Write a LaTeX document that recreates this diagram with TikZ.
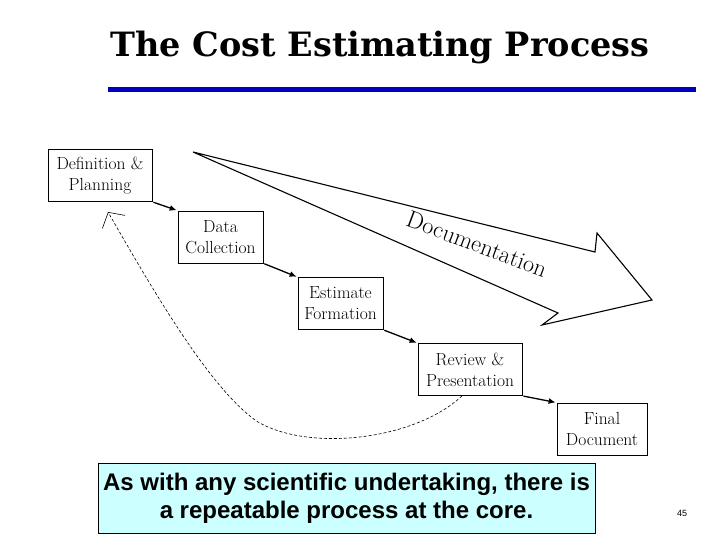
\documentclass[tikz,border=0pt]{standalone}
\usepackage{fontspec}
\usepackage{xcolor}
\usepackage{tikz}
\usetikzlibrary{arrows.meta,positioning}
\newfontfamily\titlefont{DejaVu Serif}
\newfontfamily\notefont{Liberation Sans}
\definecolor{rulebar}{HTML}{0000C0}
\definecolor{notefill}{HTML}{CCFFFF}
\newcommand{\BoxFont}{\fontsize{17.5}{21}\selectfont}
\newcommand{\NoteFont}{\fontsize{24}{28}\selectfont}

\begin{document}
\begin{tikzpicture}[x=1pt,y=-1pt,
    stepbox/.style={draw,line width=0.8pt,align=center,inner sep=0pt,minimum height=52pt,font=\BoxFont},
    flowarrow/.style={line width=1.3pt,-{Latex[length=7pt,width=6pt]},shorten <=1pt,shorten >=1pt}]
  \useasboundingbox[fill=white] (0,0) rectangle (720,540);
  % title and rule
  \node (title) at (380,47) {\titlefont\bfseries\fontsize{33.5}{38}\selectfont The Cost Estimating Process};
  \draw[rulebar,line width=5pt] (108,90) -- (696,90);
  % documentation arrow
  \draw[line width=1.1pt,line join=miter] (193,152) -- (595,252) -- (597,233) -- (652,300) -- (542,325) -- (558,313) -- cycle;
  \node[rotate=-20.5,font=\fontsize{24}{28}\selectfont] (docu) at (477,244) {Documentation};
  % process boxes
  \foreach \n/\x/\y/\w/\t in {def/100/175.5/104/Definition \&\\Planning,
                              data/220.5/237/85/Data\\Collection,
                              est/340.5/303.5/85/Estimate\\Formation,
                              rev/470/369.5/104/Review \&\\Presentation,
                              fin/602/429/90/Final\\Document}
    \node[stepbox,minimum width=\w pt] (\n) at (\x,\y) {\t};
  \foreach \a/\b in {def/data,data/est,est/rev,rev/fin}
    \draw[flowarrow] (\a.south east) -- (\b.north west);
  % feedback loop
  \coordinate (back) at (108,212);
  \draw[densely dashed,line width=0.6pt,-{Straight Barb[length=11pt,width=26pt,line width=0.6pt]}]
    ([xshift=-8pt]rev.south) .. controls (415,440) and (310,452) .. (258,422)
    .. controls (210,390) and (150,285) .. (back);
  % note
  \node[draw,fill=notefill,line width=0.8pt,minimum width=497pt,minimum height=70pt,align=center,font=\notefont\bfseries\NoteFont] (note) at (346.5,498)
    {As with any scientific undertaking, there is\\a repeatable process at the core.};
  \node[font=\notefont\fontsize{9}{11}\selectfont] (page) at (682,513) {45};
\end{tikzpicture}
\end{document}
